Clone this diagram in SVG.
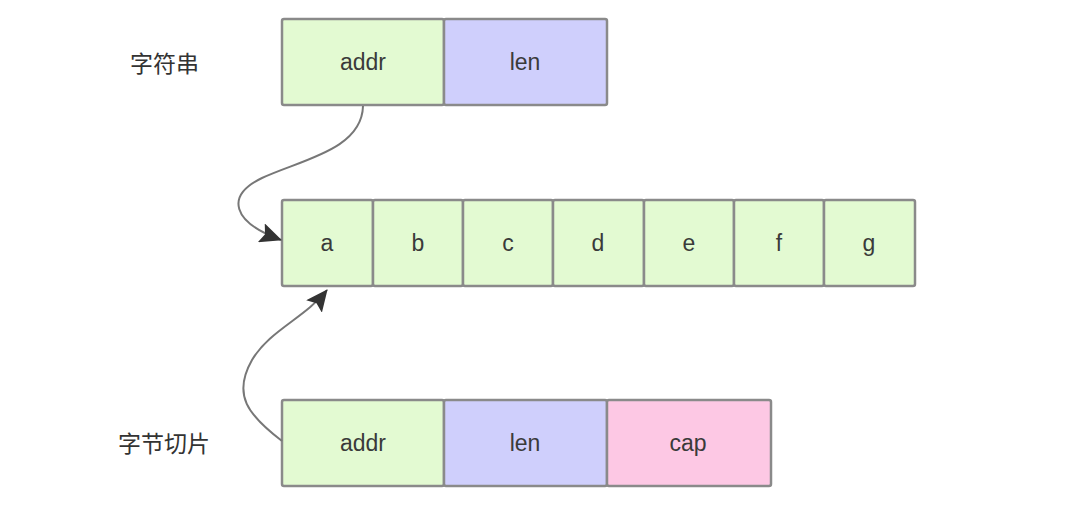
<svg xmlns="http://www.w3.org/2000/svg" width="1080" height="510" viewBox="0 0 1080 510">
<style>
.box{stroke:#8a8a8a;stroke-width:2.5}
.g{fill:#e3fad2}
.b{fill:#cfcffc}
.p{fill:#fdc8e4}
.t{font-family:"Liberation Sans",Arial,sans-serif;font-size:23px;fill:#3a3a3a;text-anchor:middle;dominant-baseline:central}
.c{font-family:"Noto Sans CJK SC","Noto Sans",sans-serif;font-size:23px;fill:#333;dominant-baseline:central}
.conn{fill:none;stroke:#777;stroke-width:2}
</style>
<defs>
<marker id="arrow" markerWidth="22" markerHeight="20" refX="21" refY="10" orient="auto" markerUnits="userSpaceOnUse">
<path d="M0,0 L22,10 L0,20 L4,10 Z" fill="#333"/>
</marker>
</defs>
<rect width="1080" height="510" fill="#fff"/>
<text class="c" x="130" y="62">字符串</text>
<text class="c" x="118" y="442">字节切片</text>
<g id="str">
<g id="str-addr"><rect class="box g" x="282" y="19" width="162" height="86" rx="2"/><text class="t" x="363" y="62">addr</text></g>
<g id="str-len"><rect class="box b" x="444" y="19" width="163" height="86" rx="2"/><text class="t" x="525" y="62">len</text></g>
</g>
<g id="bytes">
<g id="cell-a"><rect class="box g" x="282" y="200" width="91" height="86" rx="2"/><text class="t" x="327" y="243">a</text></g>
<g id="cell-b"><rect class="box g" x="373" y="200" width="90" height="86" rx="2"/><text class="t" x="418" y="243">b</text></g>
<g id="cell-c"><rect class="box g" x="463" y="200" width="90" height="86" rx="2"/><text class="t" x="508" y="243">c</text></g>
<g id="cell-d"><rect class="box g" x="553" y="200" width="91" height="86" rx="2"/><text class="t" x="598" y="243">d</text></g>
<g id="cell-e"><rect class="box g" x="644" y="200" width="90" height="86" rx="2"/><text class="t" x="689" y="243">e</text></g>
<g id="cell-f"><rect class="box g" x="734" y="200" width="90" height="86" rx="2"/><text class="t" x="779" y="243">f</text></g>
<g id="cell-g"><rect class="box g" x="824" y="200" width="91" height="86" rx="2"/><text class="t" x="869" y="243">g</text></g>
</g>
<g id="slice">
<g id="sl-addr"><rect class="box g" x="282" y="400" width="162" height="86" rx="2"/><text class="t" x="363" y="443">addr</text></g>
<g id="sl-len"><rect class="box b" x="444" y="400" width="163" height="86" rx="2"/><text class="t" x="525" y="443">len</text></g>
<g id="sl-cap"><rect class="box p" x="607" y="400" width="164" height="86" rx="2"/><text class="t" x="688" y="443">cap</text></g>
</g>
<g id="connectors">
<path class="conn" d="M363,106 C362,150 300,160 262,178 C225,196 232,222 281,240" marker-end="url(#arrow)"/>
<path class="conn" d="M282,441 C248,415 232,395 252,360 C270,330 305,318 327,290" marker-end="url(#arrow)"/>
</g>
</svg>
